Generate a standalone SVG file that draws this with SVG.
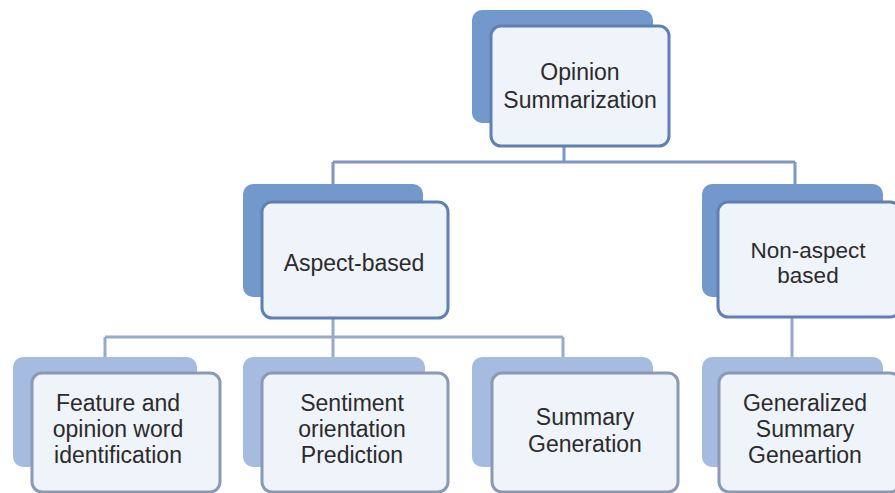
<svg xmlns="http://www.w3.org/2000/svg" width="895" height="493" viewBox="0 0 895 493">
<style>
.bg1{fill:#7399cc}
.bg2{fill:#a6bbe0}
.fr1{fill:#eff3fa;stroke:#5f80b5;stroke-width:3}
.fr2{fill:#eff3fa;stroke:#8a9ab5;stroke-width:3}
.t{font-family:"Liberation Sans",Arial,sans-serif;font-size:23px;fill:#2b2b2b;text-anchor:middle}
.c1{fill:none;stroke:#7b97c4;stroke-width:3}
.c2{fill:none;stroke:#97aacb;stroke-width:3}
</style>
<rect width="895" height="493" fill="#ffffff"/>
<g id="connectors">
<path class="c1" d="M564 147V162M333 162H795M333 162V184M795 162V184"/>
<path class="c2" d="M333 318V337M105 337H563M105 337V357M333 337V357M563 337V357M792 317V357"/>
</g>
<g id="opinion-summarization">
<rect class="bg1" x="472" y="10" width="181" height="113" rx="10"/>
<rect class="fr1" x="491" y="26" width="178" height="120" rx="10"/>
<text class="t" x="580" y="80">Opinion<tspan x="580" dy="28">Summarization</tspan></text>
</g>
<g id="aspect-based">
<rect class="bg1" x="243" y="184" width="180" height="113" rx="10"/>
<rect class="fr1" x="262" y="202" width="186" height="116" rx="10"/>
<text class="t" x="354" y="271">Aspect-based</text>
</g>
<g id="non-aspect-based">
<rect class="bg1" x="702" y="184" width="181" height="113" rx="10"/>
<rect class="fr1" x="718" y="202" width="182" height="115" rx="10"/>
<text class="t" x="808" y="258" style="font-size:22.5px">Non-aspect<tspan x="808" dy="25.3">based</tspan></text>
</g>
<g id="feature-opinion">
<rect class="bg2" x="13" y="357" width="184" height="110" rx="10"/>
<rect class="fr2" x="32" y="373" width="188" height="119" rx="10"/>
<text class="t" x="118" y="411">Feature and<tspan x="118" dy="26">opinion word</tspan><tspan x="118" dy="26">identification</tspan></text>
</g>
<g id="sentiment-orientation">
<rect class="bg2" x="243" y="357" width="182" height="110" rx="10"/>
<rect class="fr2" x="262" y="373" width="186" height="119" rx="10"/>
<text class="t" x="352" y="411">Sentiment<tspan x="352" dy="26">orientation</tspan><tspan x="352" dy="26">Prediction</tspan></text>
</g>
<g id="summary-generation">
<rect class="bg2" x="472" y="357" width="181" height="110" rx="10"/>
<rect class="fr2" x="492" y="373" width="186" height="119" rx="10"/>
<text class="t" x="585" y="425">Summary<tspan x="585" dy="27">Generation</tspan></text>
</g>
<g id="generalized-summary">
<rect class="bg2" x="702" y="357" width="181" height="110" rx="10"/>
<rect class="fr2" x="719" y="373" width="181" height="119" rx="10"/>
<text class="t" x="805" y="411">Generalized<tspan x="805" dy="26">Summary</tspan><tspan x="805" dy="26">Geneartion</tspan></text>
</g>
</svg>
